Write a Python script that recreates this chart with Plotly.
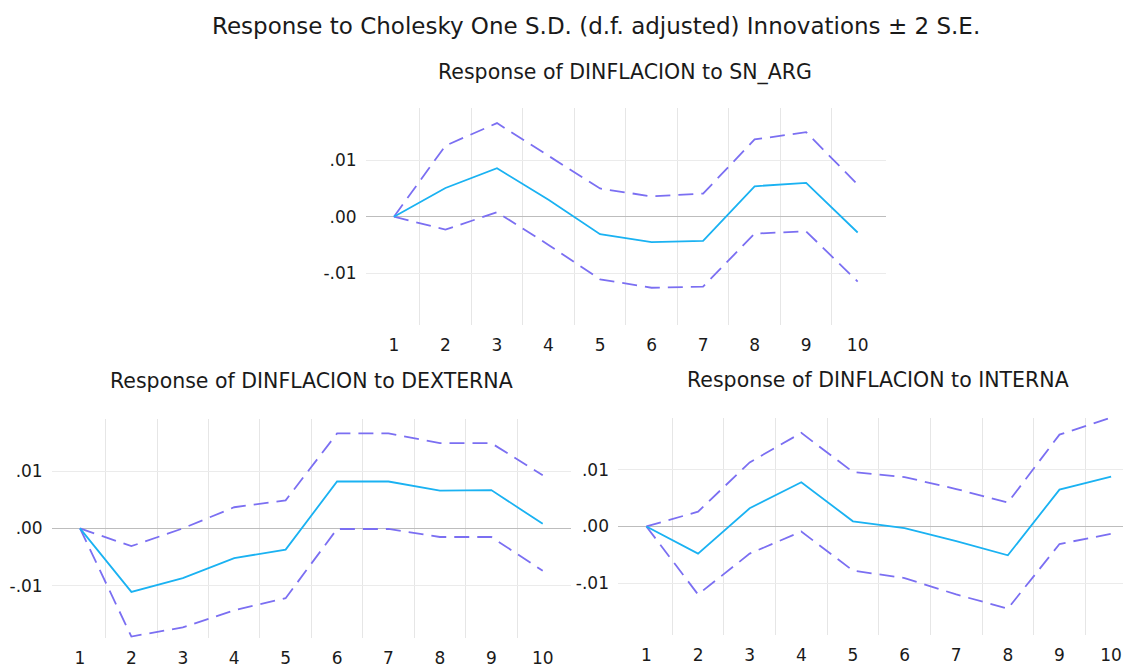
import plotly.graph_objects as go

W, H = 1123, 668

periods = [1, 2, 3, 4, 5, 6, 7, 8, 9, 10]
grid_x = [1.5, 2.5, 3.5, 4.5, 5.5, 6.5, 7.5, 8.5, 9.5]
y_ticks = [-0.01, 0.0, 0.01]
y_tick_labels = ["-.01", ".00", ".01"]

# Response of DINFLACION to SN_ARG
sn_arg_resp = [0.0, 0.0051, 0.0086, 0.0030, -0.0031, -0.0045, -0.0043, 0.0054, 0.0060, -0.0028]
sn_arg_up = [0.0, 0.0126, 0.0166, 0.0108, 0.0050, 0.0036, 0.0041, 0.0137, 0.0150, 0.0057]
sn_arg_lo = [0.0, -0.0023, 0.0008, -0.0050, -0.0111, -0.0126, -0.0124, -0.0030, -0.0026, -0.0115]

# Response of DINFLACION to DEXTERNA
dext_resp = [0.0, -0.0111, -0.0087, -0.0052, -0.0037, 0.0082, 0.0082, 0.0066, 0.0067, 0.0008]
dext_up = [0.0, -0.0031, 0.0000, 0.0037, 0.0049, 0.0166, 0.0166, 0.0149, 0.0149, 0.0093]
dext_lo = [0.0, -0.0189, -0.0173, -0.0143, -0.0122, -0.0001, -0.0001, -0.0015, -0.0015, -0.0074]

# Response of DINFLACION to INTERNA
int_resp = [0.0, -0.0048, 0.0032, 0.0078, 0.0009, -0.0003, -0.0026, -0.0051, 0.0065, 0.0088]
int_up = [0.0, 0.0026, 0.0113, 0.0165, 0.0096, 0.0087, 0.0066, 0.0042, 0.0162, 0.0192]
int_lo = [0.0, -0.0120, -0.0048, -0.0009, -0.0078, -0.0091, -0.0120, -0.0145, -0.0031, -0.0013]

title_text = "Response to Cholesky One S.D. (d.f. adjusted) Innovations \u00b1 2 S.E."
panel_titles = ["Response of DINFLACION to SN_ARG",
                "Response of DINFLACION to DEXTERNA",
                "Response of DINFLACION to INTERNA"]

SOLID = "#1ab2f2"
DASH = "#7b6ff2"
FONT = "DejaVu Sans"
TXT = "#1a1a1a"

# panel pixel boxes: (left, right, top, bottom, xmax)
boxes = [
    (365.6, 886.0, 109.6, 328.4, 10.55),
    (51.7, 571.0, 423.0, 645.0, 10.55),
    (618.0, 1123.0, 422.0, 642.0, 10.23),
]
series = [
    (sn_arg_resp, sn_arg_up, sn_arg_lo),
    (dext_resp, dext_up, dext_lo),
    (int_resp, int_up, int_lo),
]

fig = go.Figure()
layout = dict(
    width=W, height=H,
    margin=dict(l=0, r=0, t=0, b=0),
    paper_bgcolor="white", plot_bgcolor="white",
    showlegend=False,
    font=dict(family=FONT, color=TXT),
)

for i, ((l, r, t, b, xmax), (resp, up, lo)) in enumerate(zip(boxes, series)):
    n = "" if i == 0 else str(i + 1)
    xa, ya = "x" + n, "y" + n
    for vals, col, dash, wd in ((up, DASH, "15px,8px", 1.8),
                                (lo, DASH, "15px,8px", 1.8),
                                (resp, SOLID, "solid", 1.8)):
        fig.add_trace(go.Scatter(x=periods, y=vals, mode="lines", xaxis=xa, yaxis=ya,
                                 line=dict(color=col, width=wd, dash=dash),
                                 hoverinfo="skip", cliponaxis=True))
    layout["xaxis" + n] = dict(
        domain=[l / W, r / W], range=[0.45, xmax], anchor=ya,
        tickmode="array", tickvals=periods, ticktext=[str(p) for p in periods],
        showgrid=False, zeroline=False, showline=False, ticks="",
        ticklabelstandoff=8, tickfont=dict(size=17, family=FONT, color=TXT),
        minor=dict(tickmode="array", tickvals=grid_x, showgrid=True,
                   gridcolor="#e6e6e6", gridwidth=1, ticks=""),
        fixedrange=True,
    )
    layout["yaxis" + n] = dict(
        domain=[1 - b / H, 1 - t / H], range=[-0.0192, 0.0192], anchor=xa,
        tickmode="array", tickvals=y_ticks, ticktext=y_tick_labels,
        showgrid=True, gridcolor="#ebebeb", gridwidth=1,
        zeroline=True, zerolinecolor="#bdbdbd", zerolinewidth=1,
        showline=False, ticks="", ticklabelstandoff=8,
        tickfont=dict(size=17, family=FONT, color=TXT),
        fixedrange=True,
    )

annotations = [
    dict(text=title_text, x=596 / W, y=1 - 26 / H, xref="paper", yref="paper",
         showarrow=False, xanchor="center", yanchor="middle",
         font=dict(size=23, family=FONT, color=TXT)),
    dict(text=panel_titles[0], x=625 / W, y=1 - 73 / H, xref="paper", yref="paper",
         showarrow=False, xanchor="center", yanchor="middle",
         font=dict(size=20.5, family=FONT, color=TXT)),
    dict(text=panel_titles[1], x=311 / W, y=1 - 385 / H, xref="paper", yref="paper",
         showarrow=False, xanchor="center", yanchor="middle",
         font=dict(size=20.5, family=FONT, color=TXT)),
    dict(text=panel_titles[2], x=878 / W, y=1 - 384 / H, xref="paper", yref="paper",
         showarrow=False, xanchor="center", yanchor="middle",
         font=dict(size=20.5, family=FONT, color=TXT)),
]
layout["annotations"] = annotations
fig.update_layout(**layout)
fig.write_html("out.html")
